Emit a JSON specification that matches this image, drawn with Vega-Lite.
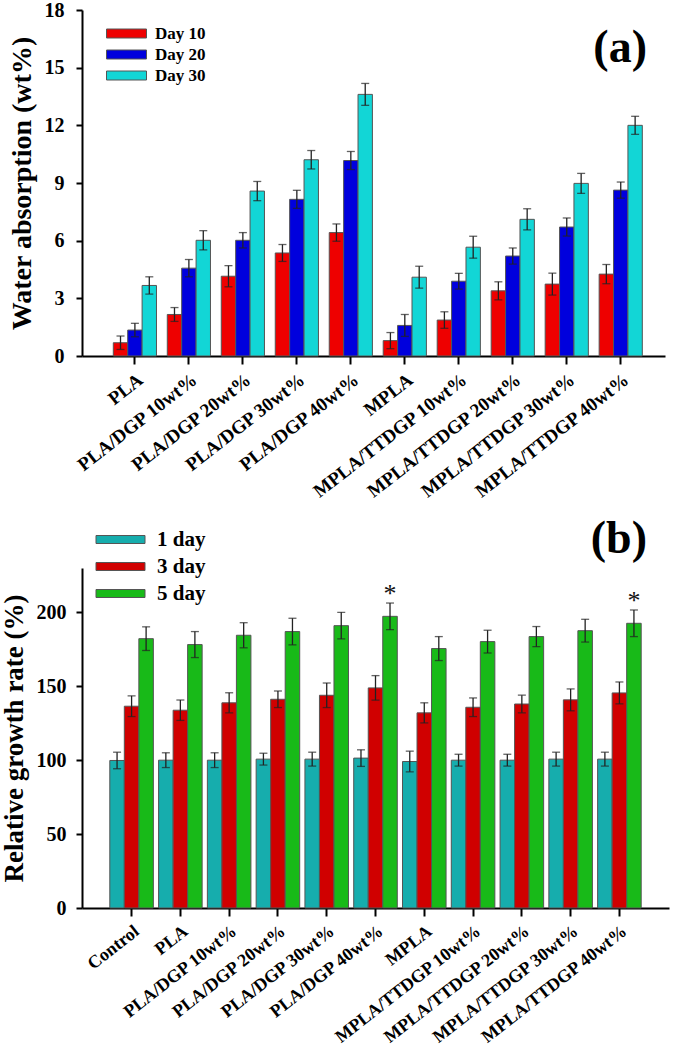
{
  "$schema": "https://vega.github.io/schema/vega-lite/v6.json",
  "padding": {"top": 0, "left": 0, "right": 5, "bottom": 0},
  "background": "white",
  "config": {
    "view": {"stroke": null},
    "font": "Liberation Serif",
    "axis": {"grid": false, "domainColor": "black", "domainWidth": 2, "tickColor": "black", "tickWidth": 2, "labelFont": "Liberation Serif", "labelFontWeight": "bold", "labelColor": "black", "titleFont": "Liberation Serif", "titleFontWeight": "bold", "titleColor": "black", "labelLimit": 0},
    "legend": {"labelFont": "Liberation Serif", "labelFontWeight": "bold", "labelColor": "black"}
  },
  "datasets": {
    "a": [
      {"s": "PLA", "d": "Day 10", "v": 0.69, "e": 0.35},
      {"s": "PLA", "d": "Day 20", "v": 1.35, "e": 0.35},
      {"s": "PLA", "d": "Day 30", "v": 3.67, "e": 0.45},
      {"s": "PLA/DGP 10wt%", "d": "Day 10", "v": 2.16, "e": 0.36},
      {"s": "PLA/DGP 10wt%", "d": "Day 20", "v": 4.57, "e": 0.45},
      {"s": "PLA/DGP 10wt%", "d": "Day 30", "v": 6.02, "e": 0.5},
      {"s": "PLA/DGP 20wt%", "d": "Day 10", "v": 4.15, "e": 0.55},
      {"s": "PLA/DGP 20wt%", "d": "Day 20", "v": 6.02, "e": 0.4},
      {"s": "PLA/DGP 20wt%", "d": "Day 30", "v": 8.58, "e": 0.5},
      {"s": "PLA/DGP 30wt%", "d": "Day 10", "v": 5.36, "e": 0.44},
      {"s": "PLA/DGP 30wt%", "d": "Day 20", "v": 8.15, "e": 0.47},
      {"s": "PLA/DGP 30wt%", "d": "Day 30", "v": 10.21, "e": 0.48},
      {"s": "PLA/DGP 40wt%", "d": "Day 10", "v": 6.42, "e": 0.45},
      {"s": "PLA/DGP 40wt%", "d": "Day 20", "v": 10.17, "e": 0.47},
      {"s": "PLA/DGP 40wt%", "d": "Day 30", "v": 13.61, "e": 0.57},
      {"s": "MPLA", "d": "Day 10", "v": 0.8, "e": 0.42},
      {"s": "MPLA", "d": "Day 20", "v": 1.59, "e": 0.57},
      {"s": "MPLA", "d": "Day 30", "v": 4.1, "e": 0.57},
      {"s": "MPLA/TTDGP 10wt%", "d": "Day 10", "v": 1.87, "e": 0.43},
      {"s": "MPLA/TTDGP 10wt%", "d": "Day 20", "v": 3.89, "e": 0.41},
      {"s": "MPLA/TTDGP 10wt%", "d": "Day 30", "v": 5.66, "e": 0.57},
      {"s": "MPLA/TTDGP 20wt%", "d": "Day 10", "v": 3.39, "e": 0.47},
      {"s": "MPLA/TTDGP 20wt%", "d": "Day 20", "v": 5.2, "e": 0.42},
      {"s": "MPLA/TTDGP 20wt%", "d": "Day 30", "v": 7.11, "e": 0.55},
      {"s": "MPLA/TTDGP 30wt%", "d": "Day 10", "v": 3.74, "e": 0.57},
      {"s": "MPLA/TTDGP 30wt%", "d": "Day 20", "v": 6.71, "e": 0.47},
      {"s": "MPLA/TTDGP 30wt%", "d": "Day 30", "v": 8.98, "e": 0.52},
      {"s": "MPLA/TTDGP 40wt%", "d": "Day 10", "v": 4.26, "e": 0.5},
      {"s": "MPLA/TTDGP 40wt%", "d": "Day 20", "v": 8.63, "e": 0.42},
      {"s": "MPLA/TTDGP 40wt%", "d": "Day 30", "v": 12.0, "e": 0.47}
    ],
    "b": [
      {"s": "Control", "d": "1 day", "v": 99.8, "e": 5.6},
      {"s": "Control", "d": "3 day", "v": 136.5, "e": 7},
      {"s": "Control", "d": "5 day", "v": 182.2, "e": 8},
      {"s": "PLA", "d": "1 day", "v": 100, "e": 5},
      {"s": "PLA", "d": "3 day", "v": 133.8, "e": 6.9},
      {"s": "PLA", "d": "5 day", "v": 178.2, "e": 8.8},
      {"s": "PLA/DGP 10wt%", "d": "1 day", "v": 100, "e": 5},
      {"s": "PLA/DGP 10wt%", "d": "3 day", "v": 138.8, "e": 6.8},
      {"s": "PLA/DGP 10wt%", "d": "5 day", "v": 184.5, "e": 8.5},
      {"s": "PLA/DGP 20wt%", "d": "1 day", "v": 100.7, "e": 4},
      {"s": "PLA/DGP 20wt%", "d": "3 day", "v": 141.2, "e": 5.6},
      {"s": "PLA/DGP 20wt%", "d": "5 day", "v": 187, "e": 9},
      {"s": "PLA/DGP 30wt%", "d": "1 day", "v": 100.7, "e": 4.7},
      {"s": "PLA/DGP 30wt%", "d": "3 day", "v": 143.9, "e": 8.3},
      {"s": "PLA/DGP 30wt%", "d": "5 day", "v": 191, "e": 9},
      {"s": "PLA/DGP 40wt%", "d": "1 day", "v": 101.4, "e": 5.6},
      {"s": "PLA/DGP 40wt%", "d": "3 day", "v": 148.9, "e": 8.3},
      {"s": "PLA/DGP 40wt%", "d": "5 day", "v": 197.3, "e": 9, "sig": "*"},
      {"s": "MPLA", "d": "1 day", "v": 99.1, "e": 7},
      {"s": "MPLA", "d": "3 day", "v": 132, "e": 6.8},
      {"s": "MPLA", "d": "5 day", "v": 175.5, "e": 8.1},
      {"s": "MPLA/TTDGP 10wt%", "d": "1 day", "v": 100, "e": 4},
      {"s": "MPLA/TTDGP 10wt%", "d": "3 day", "v": 135.8, "e": 6.3},
      {"s": "MPLA/TTDGP 10wt%", "d": "5 day", "v": 180.2, "e": 7.7},
      {"s": "MPLA/TTDGP 20wt%", "d": "1 day", "v": 100, "e": 4},
      {"s": "MPLA/TTDGP 20wt%", "d": "3 day", "v": 138, "e": 6},
      {"s": "MPLA/TTDGP 20wt%", "d": "5 day", "v": 183.6, "e": 6.8},
      {"s": "MPLA/TTDGP 30wt%", "d": "1 day", "v": 100.7, "e": 4.7},
      {"s": "MPLA/TTDGP 30wt%", "d": "3 day", "v": 140.8, "e": 7.4},
      {"s": "MPLA/TTDGP 30wt%", "d": "5 day", "v": 187.6, "e": 7.7},
      {"s": "MPLA/TTDGP 40wt%", "d": "1 day", "v": 100.7, "e": 4.7},
      {"s": "MPLA/TTDGP 40wt%", "d": "3 day", "v": 145.5, "e": 7.4},
      {"s": "MPLA/TTDGP 40wt%", "d": "5 day", "v": 192.6, "e": 9, "sig": "*"}
    ]
  },
  "bounds": "flush",
  "spacing": 212,
  "resolve": {"scale": {"x": "independent", "y": "independent", "xOffset": "independent", "color": "independent"}, "legend": {"color": "independent"}, "axis": {"x": "independent", "y": "independent"}},
  "vconcat": [
    {
      "width": 583,
      "height": 346,
      "title": {"text": "(a)", "anchor": "end", "frame": "group", "fontSize": 46, "font": "Liberation Serif", "fontWeight": "bold", "color": "black", "dy": 72, "dx": -18, "offset": 0},
      "data": {"name": "a"},
      "transform": [
        {"calculate": "datum.v - datum.e", "as": "lo"},
        {"calculate": "datum.v + datum.e", "as": "hi"}
      ],
      "encoding": {
        "x": {"field": "s", "type": "nominal", "sort": null, "scale": {"paddingInner": 0.2, "paddingOuter": 0.5, "align": 0.58},
          "axis": {"title": null, "labelAngle": -38, "labelFontSize": 19, "tickSize": 8, "labelPadding": 6}},
        "xOffset": {"field": "d", "type": "nominal", "sort": null, "scale": {"paddingInner": 0, "paddingOuter": 0}}
      },
      "layer": [
        {
          "mark": {"type": "bar", "stroke": "#555555", "strokeWidth": 1},
          "encoding": {
            "y": {"field": "v", "type": "quantitative", "scale": {"domain": [0, 18], "nice": false},
              "axis": {"title": "Water absorption (wt%)", "values": [0, 3, 6, 9, 12, 15, 18], "labelFontSize": 20, "tickSize": 6, "labelPadding": 12, "titleFontSize": 28, "titlePadding": 8}},
            "color": {"field": "d", "type": "nominal", "sort": null,
              "scale": {"domain": ["Day 10", "Day 20", "Day 30"], "range": ["#EE0000", "#0000DD", "#12D6D6"]},
              "legend": {"title": null, "orient": "none", "legendX": 34, "legendY": 13, "symbolType": "M-2,-0.45H2V0.45H-2Z", "symbolSize": 400, "symbolStrokeColor": "#555555", "symbolStrokeWidth": 1, "symbolOpacity": 1, "labelFontSize": 17, "labelOffset": 18, "rowPadding": 2}}
          }
        },
        {
          "mark": {"type": "rule", "color": "#222222", "strokeWidth": 1.3},
          "encoding": {"y": {"field": "lo", "type": "quantitative"}, "y2": {"field": "hi"}}
        },
        {
          "mark": {"type": "tick", "color": "#222222", "size": 8, "thickness": 1.3},
          "encoding": {"y": {"field": "hi", "type": "quantitative"}}
        },
        {
          "mark": {"type": "tick", "color": "#222222", "size": 8, "thickness": 1.3},
          "encoding": {"y": {"field": "lo", "type": "quantitative"}}
        }
      ]
    },
    {
      "width": 587,
      "height": 340,
      "title": {"text": "(b)", "anchor": "end", "frame": "group", "fontSize": 46, "font": "Liberation Serif", "fontWeight": "bold", "color": "black", "dy": 40, "dx": -22, "offset": 6},
      "data": {"name": "b"},
      "transform": [
        {"calculate": "datum.v - datum.e", "as": "lo"},
        {"calculate": "datum.v + datum.e", "as": "hi"}
      ],
      "encoding": {
        "x": {"field": "s", "type": "nominal", "sort": null, "scale": {"paddingInner": 0.107, "paddingOuter": 0.57, "align": 0.5},
          "axis": {"title": null, "labelAngle": -38, "labelFontSize": 18, "tickSize": 8, "labelPadding": 6}},
        "xOffset": {"field": "d", "type": "nominal", "sort": null, "scale": {"paddingInner": 0, "paddingOuter": 0}}
      },
      "layer": [
        {
          "mark": {"type": "bar", "stroke": "#555555", "strokeWidth": 1},
          "encoding": {
            "y": {"field": "v", "type": "quantitative", "scale": {"domain": [0, 230], "nice": false},
              "axis": {"title": "Relative growth rate (%)", "values": [0, 50, 100, 150, 200], "labelFontSize": 20, "tickSize": 6, "labelPadding": 10, "titleFontSize": 27, "titlePadding": 8}},
            "color": {"field": "d", "type": "nominal", "sort": null,
              "scale": {"domain": ["1 day", "3 day", "5 day"], "range": ["#16ADAD", "#D00000", "#18BA18"]},
              "legend": {"title": null, "orient": "none", "legendX": 28, "legendY": -39, "symbolType": "M-2.45,-0.4H2.45V0.4H-2.45Z", "symbolSize": 400, "symbolStrokeColor": "#555555", "symbolStrokeWidth": 1, "symbolOpacity": 1, "labelFontSize": 21, "labelOffset": 26, "rowPadding": 5}}
          }
        },
        {
          "mark": {"type": "rule", "color": "#222222", "strokeWidth": 1.3},
          "encoding": {"y": {"field": "lo", "type": "quantitative"}, "y2": {"field": "hi"}}
        },
        {
          "mark": {"type": "tick", "color": "#222222", "size": 8, "thickness": 1.3},
          "encoding": {"y": {"field": "hi", "type": "quantitative"}}
        },
        {
          "mark": {"type": "tick", "color": "#222222", "size": 8, "thickness": 1.3},
          "encoding": {"y": {"field": "lo", "type": "quantitative"}}
        },
        {
          "transform": [{"filter": "datum.sig"}],
          "mark": {"type": "text", "fontSize": 26, "font": "Liberation Serif", "color": "#111111", "baseline": "alphabetic", "dy": -1},
          "encoding": {"y": {"field": "hi", "type": "quantitative"}, "text": {"field": "sig"}}
        }
      ]
    }
  ]
}
